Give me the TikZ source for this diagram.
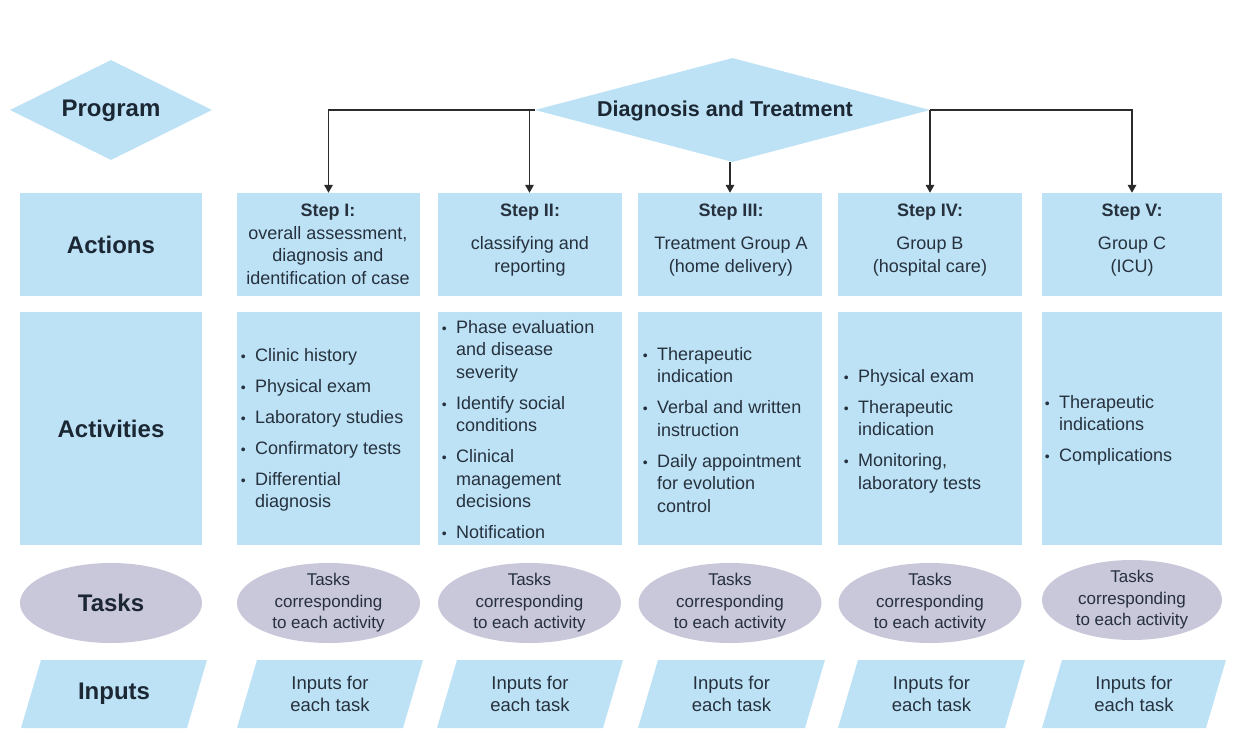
\documentclass[tikz,border=0pt]{standalone}
\usepackage{fontspec}
\setmainfont{Liberation Sans}
\usetikzlibrary{shapes.geometric,arrows.meta}
\definecolor{boxblue}{HTML}{BDE2F6}
\definecolor{taskgray}{HTML}{C9C7DA}
\definecolor{ink}{HTML}{1C2734}
\definecolor{bodyink}{HTML}{26313D}
\definecolor{wireink}{HTML}{2B2B2B}
\newcommand{\bul}{\llap{{\fontsize{14}{14}\selectfont\textbullet}\hspace{9.5pt}}}
\begin{document}
\begin{tikzpicture}[x=1pt,y=-1pt,
  lab/.style={font=\fontsize{24}{28}\selectfont\bfseries, text=ink},
  blk/.style={fill=boxblue, draw=none, inner sep=0pt},
  headtxt/.style={font=\fontsize{18}{22.5}\selectfont, text=bodyink, align=center, anchor=north, inner sep=0pt},
  listtxt/.style={font=\fontsize{18}{22.5}\selectfont, text=bodyink, align=left, anchor=north west, inner sep=0pt},
  tasktxt/.style={font=\fontsize{17}{21.5}\selectfont, text=bodyink, align=center, inner sep=0pt},
  inptxt/.style={font=\fontsize{18.5}{22}\selectfont, text=bodyink, align=center, inner sep=0pt},
  oval/.style={ellipse, fill=taskgray, draw=none, inner sep=0pt, minimum width=183, minimum height=80},
  conn/.style={draw=wireink, line width=1.7pt, -{Triangle[length=8pt,width=8.5pt]}}
]
\useasboundingbox[fill=white] (0,0) rectangle (1235,733);

% ---------- Program row ----------
\node[diamond, fill=boxblue, aspect=2, minimum width=202, minimum height=100, inner sep=0pt]
  (prog) at (111,110) {};
\node[lab, inner sep=0pt] (progt) at (111,111) {Program};
\node[diamond, fill=boxblue, aspect=3.8, minimum width=395, minimum height=104, inner sep=0pt]
  (dt) at (732.5,110) {};
\node[font=\fontsize{21.5}{26}\selectfont\bfseries, text=ink, inner sep=0pt] (dtt) at (725,111) {Diagnosis and Treatment};

% ---------- Actions row ----------
\node[blk, lab, minimum width=182, minimum height=103] (actlab) at (111,244.5) {Actions};
\node[blk, minimum width=183, minimum height=103] (s1) at (328.5,244.5) {};
\node[blk, minimum width=184, minimum height=103] (s2) at (529.5,244.5) {};
\node[blk, minimum width=184, minimum height=103] (s3) at (730,244.5) {};
\node[blk, minimum width=184, minimum height=103] (s4) at (930,244.5) {};
\node[blk, minimum width=180, minimum height=103] (s5) at (1132,244.5) {};

\node[headtxt] (s1t) at (328,204) {\textbf{Step I:}\\overall assessment,\\diagnosis and\\identification of case};
\node[headtxt] (s2t) at (530,204) {\textbf{Step II:}\\[10.5pt]classifying and\\reporting};
\node[headtxt] (s3t) at (731,204) {\textbf{Step III:}\\[10.5pt]Treatment Group A\\(home delivery)};
\node[headtxt] (s4t) at (930,204) {\textbf{Step IV:}\\[10.5pt]Group B\\(hospital care)};
\node[headtxt] (s5t) at (1132,204) {\textbf{Step V:}\\[10.5pt]Group C\\(ICU)};

% ---------- Activities row ----------
\node[blk, lab, minimum width=182, minimum height=233] (actvlab) at (111,428.5) {Activities};
\node[blk, minimum width=183, minimum height=233] (a1) at (328.5,428.5) {};
\node[blk, minimum width=184, minimum height=233] (a2) at (529.5,428.5) {};
\node[blk, minimum width=184, minimum height=233] (a3) at (730,428.5) {};
\node[blk, minimum width=184, minimum height=233] (a4) at (930,428.5) {};
\node[blk, minimum width=180, minimum height=233] (a5) at (1132,428.5) {};

\node[listtxt] (a1t) at (255,348) {\bul Clinic history\\[8.5pt]\bul Physical exam\\[8.5pt]\bul Laboratory studies\\[8.5pt]\bul Confirmatory tests\\[8.5pt]\bul Differential\\diagnosis};
\node[listtxt] (a2t) at (456,320) {\bul Phase evaluation\\and disease\\severity\\[8.5pt]\bul Identify social\\conditions\\[8.5pt]\bul Clinical\\management\\decisions\\[8.5pt]\bul Notification};
\node[listtxt] (a3t) at (657,347) {\bul Therapeutic\\indication\\[8.5pt]\bul Verbal and written\\instruction\\[8.5pt]\bul Daily appointment\\for evolution\\control};
\node[listtxt] (a4t) at (858,369) {\bul Physical exam\\[8.5pt]\bul Therapeutic\\indication\\[8.5pt]\bul Monitoring,\\laboratory tests};
\node[listtxt] (a5t) at (1059,395) {\bul Therapeutic\\indications\\[8.5pt]\bul Complications};

% ---------- Tasks row ----------
\node[oval, minimum width=182, lab] (tasklab) at (111,603) {Tasks};
\node[oval] (t1) at (328.5,603) {};
\node[oval] (t2) at (529.5,603) {};
\node[oval] (t3) at (730,603) {};
\node[oval] (t4) at (930,603) {};
\node[oval, minimum width=180] (t5) at (1132,600) {};
\foreach \n in {1,...,5}{
  \node[tasktxt] (t\n t) at (t\n) {Tasks\\corresponding\\to each activity};
}

% ---------- Inputs row ----------
\foreach \n/\l/\r in {0/21/207, 1/237/423, 2/437/623, 3/638/825, 4/838/1025, 5/1042/1226}{
  \fill[boxblue] (\l,728) -- (\l+20,660) -- (\r,660) -- (\r-20,728) -- cycle;
}
\node[lab, inner sep=0pt] (inplab) at (114,694) {Inputs};
\foreach \n/\c in {1/330, 2/530, 3/731.5, 4/931.5, 5/1134}{
  \node[inptxt] (i\n) at (\c,694) {Inputs for\\each task};
}

% ---------- Connectors ----------
\draw[conn] (dt.west) -| (s1.north);
\draw[conn] (s2.north |- dt.west) -- (s2.north);
\draw[conn] (s3.north |- dt.south) -- (s3.north);
\draw[conn] (dt.east) -| (s5.north);
\draw[conn] (s4.north |- dt.east) -- (s4.north);
\end{tikzpicture}
\end{document}
